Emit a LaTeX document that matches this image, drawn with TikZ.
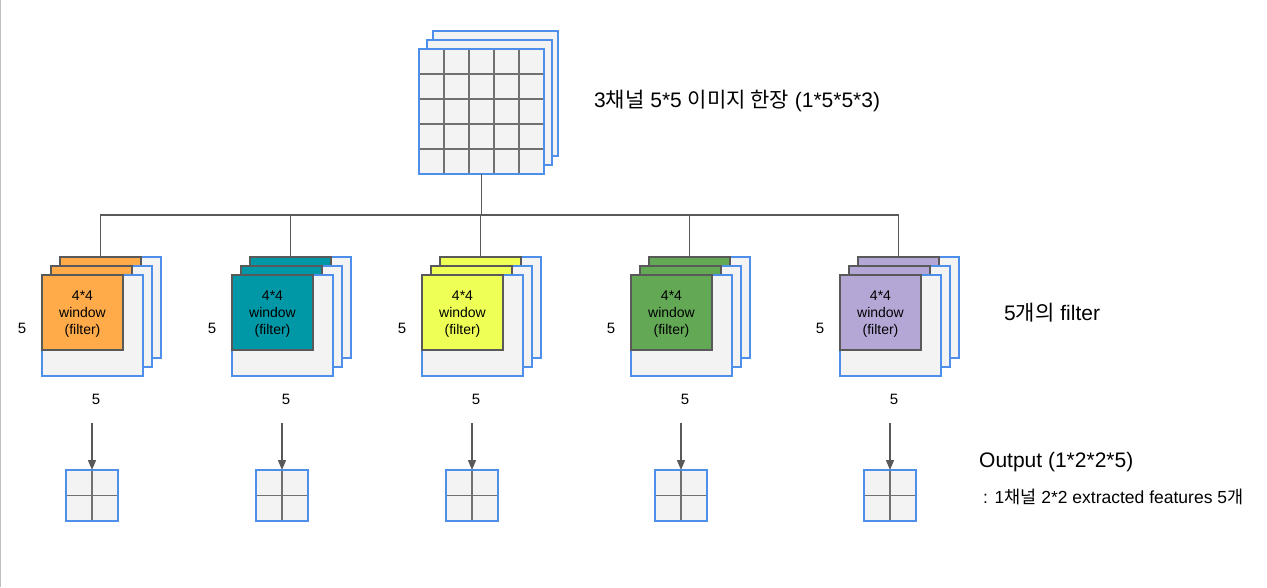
\documentclass[tikz,border=0pt]{standalone}
\usepackage{fontspec}
\setmainfont{Liberation Sans}
\newfontfamily\kr{Noto Sans CJK KR}
\usepackage{tikz}
\usetikzlibrary{arrows.meta}

\definecolor{layerblue}{HTML}{4D8FEA}
\definecolor{layergray}{HTML}{F3F3F3}
\definecolor{wiregray}{HTML}{595959}
\definecolor{cellgray}{HTML}{707070}
\definecolor{winorange}{HTML}{FFAB4A}
\definecolor{winteal}{HTML}{0097A7}
\definecolor{winlime}{HTML}{EEFF55}
\definecolor{wingreen}{HTML}{62A855}
\definecolor{winpurple}{HTML}{B4A7D6}

\begin{document}
\begin{tikzpicture}[x=1pt, y=-1pt,
                    layer/.style={draw=layerblue, fill=layergray, line width=1.3pt, rectangle, inner sep=0pt, outer sep=0pt, anchor=north west, minimum width=101pt, minimum height=101pt},
                    window/.style={draw=wiregray, line width=1.2pt, rectangle, inner sep=0pt, outer sep=0pt, anchor=north west, minimum width=81pt, minimum height=75pt},
                    wintext/.style={inner sep=0pt, align=center, font=\fontsize{14}{16.8}\selectfont},
                    dim/.style={inner sep=0pt, font=\fontsize{15}{18}\selectfont},
                    caption/.style={inner sep=0pt, anchor=west, font=\fontsize{21}{24}\selectfont},
                    cell/.style={draw=cellgray, line width=1.5pt},
                    wire/.style={draw=wiregray, line width=1.1pt},
                    fleche/.style={draw=wiregray, line width=1.4pt, -{Triangle[width=8pt,length=10pt]}}]

	\useasboundingbox (0,0) rectangle (1267,587);
	\draw[draw=black!25, line width=1.2pt] (0.6,0) -- (0.6,587);

	\node[layer, minimum width=125pt, minimum height=125pt] (imgback) at (433,31) {};
	\node[layer, minimum width=125pt, minimum height=125pt] (imgmid) at (427,40) {};
	\node[layer, minimum width=125pt, minimum height=125pt] (img) at (419,49) {};
	\foreach \i in {1,...,4} {
		\draw[cell] ([xshift=\i*25pt, yshift=-0.7pt]img.north west) -- ([xshift=\i*25pt, yshift=0.7pt]img.south west);
		\draw[cell] ([yshift=-\i*25pt, xshift=0.7pt]img.north west) -- ([yshift=-\i*25pt, xshift=-0.7pt]img.north east);
	}

	\node[caption] (imgcap) at (594,101) {3{\kr 채널} 5*5 {\kr 이미지 한장} (1*5*5*3)};
	\node[caption] (filtcap) at (1004,313) {5{\kr 개의} filter};
	\node[caption] (outcap) at (979,462) {Output (1*2*2*5)};
	\node[caption, font=\fontsize{17.5}{20}\selectfont] (outsub) at (983,497) {: 1{\kr 채널} 2*2 extracted features 5{\kr 개}};

	\coordinate (bus) at (img.south |- 0,215);
	\path[wire] (img.south) -- (bus);

	\foreach \x/\col/\n in {42/winorange/a, 232/winteal/b, 422/winlime/c, 631/wingreen/d, 840/winpurple/e} {
		\node[layer] (back\n) at (\x+18,257) {};
		\node[window, fill=\col] (wback\n) at (\x+18,257) {};
		\node[layer] (mid\n) at (\x+9,266) {};
		\node[window, fill=\col] (wmid\n) at (\x+9,266) {};
		\node[layer] (front\n) at (\x,275) {};
		\node[window, fill=\col] (wfront\n) at (\x,275) {};
		\node[wintext] (wtext\n) at ([yshift=-1.5pt]wfront\n.center) {4*4\\ window\\ (filter)};

		\node[dim] (side\n) at (\x-20,328) {5};
		\node[dim] (base\n) at (\x+54,399) {5};

		\node[layer, minimum width=52pt, minimum height=51pt] (out\n) at (\x+24,470) {};
		\draw[cell] ([yshift=-0.7pt]out\n.north) -- ([yshift=0.7pt]out\n.south);
		\draw[cell] ([xshift=0.7pt]out\n.west) -- ([xshift=-0.7pt]out\n.east);

		\coordinate (tail\n) at ([yshift=47pt]out\n.north);
		\path[wire] (bus) -| (wback\n.north);
		\path[fleche] (tail\n) -- (out\n.north);
	}

\end{tikzpicture}
\end{document}
